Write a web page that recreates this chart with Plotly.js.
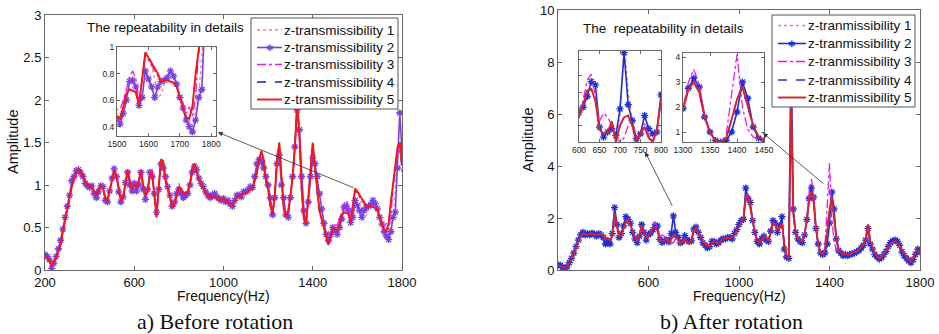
<!DOCTYPE html>
<html><head><meta charset="utf-8">
<script src="https://cdn.plot.ly/plotly-3.0.1.min.js"></script>
<style>html,body{margin:0;padding:0;background:#fff}#chart{width:939px;height:334px}</style>
</head><body><div id="chart"></div>
<script>
// ---- frequency grid (Hz) ----
const freqStart = 200, freqEnd = 1800, freqStep = 10;
const freq = [];
for (let f = freqStart; f <= freqEnd; f += freqStep) freq.push(f);

// ---- a) Before rotation ----
const leftNames = ['z-transmissibility 1','z-transmissibility 2','z-transmissibility 3','z-transmissibility 4','z-transmissibility 5'];
const leftT1 = [0.18,0.15,0.10,0.05,0.10,0.15,0.22,0.30,0.45,0.60, 0.72,0.85,0.98,1.08,1.13,1.18,1.17,1.12,1.05,1.00, 0.99,0.98,0.93,0.88,0.96,0.98,0.96,0.85,0.82,0.95, 1.05,1.17,1.12,0.95,0.82,0.85,1.00,1.17,1.05,0.95, 1.00,0.97,1.05,1.17,1.00,0.88,0.92,1.12,1.15,0.85, 0.62,1.00,1.30,1.28,1.05,0.95,0.85,0.74,0.76,0.88, 0.98,0.95,0.90,0.90,0.92,1.02,1.20,1.25,1.15,1.05, 1.00,0.95,0.90,0.86,0.88,0.85,0.86,0.84,0.82,0.83, 0.85,0.82,0.80,0.76,0.76,0.80,0.85,0.87,0.88,0.90, 0.90,0.92,0.95,0.95,1.05,1.15,1.30,1.40,1.30,1.05, 0.95,0.75,0.66,0.90,1.30,1.50,1.10,0.72,0.63,0.70, 0.88,1.10,1.45,1.98,1.60,0.95,0.60,0.55,0.85,1.20, 1.50,1.20,0.95,0.70,0.60,0.50,0.38,0.30,0.38,0.48, 0.48,0.46,0.55,0.65,0.68,0.67,0.66,0.56,0.75,0.96, 0.92,0.86,0.76,0.62,0.64,0.72,0.74,0.74,0.73,0.70, 0.62,0.55,0.47,0.44,0.40,0.52,0.62,0.95,1.40,1.50, 1.25];
const leftT2 = [0.18,0.16,0.12,0.02,0.08,0.16,0.25,0.35,0.48,0.62, 0.75,0.88,1.05,1.10,1.17,1.18,1.14,1.10,1.02,0.99, 0.97,0.99,0.90,0.85,0.92,0.99,0.98,0.82,0.80,0.93, 1.08,1.19,1.10,0.92,0.80,0.86,1.03,1.15,1.00,0.93, 1.02,0.93,1.00,1.15,0.95,0.83,0.95,1.15,1.10,0.90, 0.68,0.95,1.25,1.20,1.10,0.98,0.88,0.75,0.80,0.90, 0.95,0.90,0.85,0.88,0.90,1.00,1.15,1.22,1.18,1.08, 1.02,0.98,0.92,0.88,0.85,0.88,0.90,0.86,0.84,0.82, 0.84,0.80,0.82,0.78,0.75,0.82,0.88,0.88,0.86,0.92, 0.92,0.94,0.98,0.97,1.10,1.25,1.30,1.27,1.20,1.10, 1.00,0.85,0.65,0.85,1.25,1.35,1.00,0.85,0.65,0.62, 0.85,1.10,1.45,1.88,1.65,1.10,0.70,0.55,0.80,1.10, 1.32,1.25,1.10,0.90,0.72,0.55,0.42,0.35,0.42,0.50, 0.46,0.42,0.50,0.60,0.74,0.75,0.70,0.56,0.62,0.82, 0.76,0.70,0.62,0.70,0.74,0.75,0.77,0.82,0.78,0.72, 0.62,0.54,0.45,0.40,0.36,0.45,0.62,0.68,1.20,1.85, 1.40];
const leftT3 = [0.18,0.14,0.10,0.05,0.10,0.16,0.23,0.31,0.46,0.60, 0.73,0.86,0.99,1.08,1.14,1.19,1.16,1.12,1.05,1.00, 0.99,0.97,0.92,0.88,0.95,0.98,0.96,0.86,0.82,0.95, 1.06,1.19,1.12,0.95,0.83,0.85,1.01,1.18,1.06,0.95, 1.02,0.97,1.05,1.18,1.00,0.88,0.93,1.12,1.20,0.86, 0.63,1.00,1.32,1.28,1.06,0.95,0.85,0.75,0.78,0.90, 1.02,0.96,0.92,0.90,0.93,1.03,1.20,1.25,1.15,1.05, 1.00,0.95,0.90,0.87,0.88,0.86,0.86,0.84,0.82,0.83, 0.85,0.82,0.80,0.77,0.76,0.80,0.85,0.87,0.88,0.90, 0.90,0.92,0.95,0.95,1.05,1.15,1.30,1.38,1.28,1.05, 0.95,0.75,0.66,0.90,1.30,1.48,1.10,0.72,0.63,0.70, 0.88,1.10,1.45,1.95,1.60,0.95,0.60,0.55,0.85,1.20, 1.48,1.20,0.95,0.70,0.60,0.50,0.38,0.29,0.38,0.48, 0.53,0.53,0.60,0.68,0.78,0.82,0.76,0.60,0.75,0.94, 0.90,0.86,0.82,0.78,0.74,0.75,0.75,0.74,0.73,0.70, 0.64,0.58,0.50,0.55,0.48,0.62,0.98,1.18,1.40,1.45, 1.15];
const leftT4 = [0.18,0.15,0.10,0.05,0.10,0.15,0.22,0.30,0.45,0.60, 0.72,0.85,0.98,1.08,1.13,1.18,1.17,1.12,1.05,1.00, 0.99,0.98,0.93,0.88,0.96,0.98,0.96,0.85,0.82,0.95, 1.05,1.17,1.12,0.95,0.82,0.85,1.00,1.17,1.05,0.95, 1.00,0.97,1.05,1.17,1.00,0.88,0.92,1.12,1.15,0.85, 0.62,1.00,1.30,1.28,1.05,0.95,0.85,0.74,0.76,0.88, 0.98,0.95,0.90,0.90,0.92,1.02,1.20,1.25,1.15,1.05, 1.00,0.95,0.90,0.86,0.88,0.85,0.86,0.84,0.82,0.83, 0.85,0.82,0.80,0.76,0.76,0.80,0.85,0.87,0.88,0.90, 0.90,0.92,0.95,0.95,1.05,1.15,1.30,1.40,1.30,1.05, 0.95,0.75,0.66,0.90,1.30,1.50,1.10,0.72,0.63,0.70, 0.88,1.10,1.45,1.95,1.60,0.95,0.60,0.55,0.85,1.20, 1.50,1.20,0.95,0.70,0.60,0.50,0.38,0.30,0.38,0.48, 0.48,0.46,0.55,0.65,0.68,0.67,0.66,0.56,0.75,0.94, 0.92,0.88,0.84,0.80,0.74,0.75,0.75,0.74,0.73,0.70, 0.62,0.55,0.47,0.46,0.55,0.78,0.98,1.20,1.45,1.50, 1.25];
const leftT5 = [0.18,0.15,0.10,0.05,0.10,0.15,0.22,0.30,0.45,0.60, 0.72,0.85,0.98,1.08,1.13,1.18,1.17,1.12,1.05,1.00, 0.99,0.98,0.93,0.88,0.96,0.98,0.96,0.85,0.82,0.95, 1.05,1.17,1.12,0.95,0.82,0.85,1.00,1.17,1.05,0.95, 1.00,0.97,1.05,1.17,1.00,0.88,0.92,1.12,1.15,0.85, 0.62,1.00,1.30,1.28,1.05,0.95,0.85,0.74,0.76,0.88, 0.98,0.95,0.90,0.90,0.92,1.02,1.20,1.25,1.15,1.05, 1.00,0.95,0.90,0.86,0.88,0.85,0.86,0.84,0.82,0.83, 0.85,0.82,0.80,0.76,0.76,0.80,0.85,0.87,0.88,0.90, 0.90,0.92,0.95,0.95,1.05,1.15,1.30,1.40,1.30,1.05, 0.95,0.75,0.66,0.90,1.30,1.50,1.10,0.72,0.63,0.70, 0.88,1.10,1.45,1.98,1.60,0.95,0.60,0.55,0.85,1.20, 1.50,1.20,0.95,0.70,0.60,0.50,0.38,0.30,0.38,0.48, 0.48,0.46,0.55,0.65,0.68,0.67,0.66,0.56,0.75,0.96, 0.92,0.88,0.84,0.80,0.74,0.75,0.75,0.74,0.73,0.70, 0.62,0.55,0.47,0.46,0.55,0.80,1.02,1.20,1.45,1.50, 1.25];

// ---- b) After rotation ----
const rightNames = ['z-tranmissibility 1','z-tranmissibility 2','z-tranmissibility 3','z-tranmissibility 4','z-tranmissibility 5'];
const rightT1 = [0.20,0.15,0.10,0.08,0.12,0.25,0.40,0.60,0.85,1.10, 1.30,1.42,1.38,1.35,1.38,1.40,1.36,1.35,1.38,1.40, 1.30,1.20,1.22,1.15,1.30,2.25,1.70,1.30,1.35,1.60, 1.85,1.95,1.75,1.50,1.25,1.10,1.30,1.72,1.50,1.20, 1.32,1.45,1.62,1.66,1.50,1.15,1.10,1.12,1.25,1.02, 1.30,2.20,1.60,1.25,1.00,1.12,1.22,1.08,1.00,1.15, 1.50,1.62,1.45,1.30,1.10,1.00,0.92,0.90,1.00,1.12, 1.05,1.00,1.10,1.20,1.22,1.25,1.22,1.25,1.35,1.50, 1.70,1.85,2.00,2.85,2.90,2.40,1.90,1.45,1.15,1.05, 1.15,1.30,1.25,1.10,1.45,1.85,1.75,1.50,1.65,1.85, 1.00,0.55,0.45,7.80,2.20,1.40,1.20,1.15,1.10,1.40, 1.90,2.70,3.00,2.60,1.60,1.00,0.65,0.60,0.75,1.50, 2.30,2.80,2.00,1.25,0.80,0.70,0.60,0.62,0.60,0.62, 0.65,0.68,0.72,0.78,0.90,1.00,1.20,1.75,1.10,0.85, 0.65,0.55,0.45,0.50,0.62,0.75,0.90,1.00,1.08,1.10, 1.05,0.90,0.75,0.60,0.50,0.40,0.32,0.45,0.70,0.75, 0.65];
const rightT2 = [0.20,0.18,0.10,0.05,0.12,0.28,0.45,0.65,0.90,1.15, 1.35,1.45,1.35,1.40,1.35,1.42,1.38,1.30,1.40,1.35, 1.25,1.00,1.10,1.00,1.40,2.40,1.75,1.25,1.40,1.70, 2.05,1.95,1.80,1.45,1.20,1.05,1.30,1.75,1.45,1.15, 1.36,1.42,1.55,1.73,1.69,1.18,1.06,1.12,1.16,1.08, 1.40,2.08,1.45,1.26,1.04,1.10,1.32,1.16,1.10,1.12, 1.57,1.65,1.45,1.25,1.05,0.95,0.85,0.90,1.10,1.10, 1.00,1.05,1.15,1.20,1.20,1.25,1.25,1.20,1.40,1.55, 1.75,1.90,1.95,3.15,2.75,2.60,1.90,1.45,1.10,1.00, 1.20,1.30,1.15,1.10,1.50,1.90,1.80,1.45,1.70,2.05, 0.80,0.50,0.45,8.30,2.35,1.45,1.20,1.10,1.05,1.35, 1.94,2.75,3.15,2.80,1.60,1.00,0.66,0.60,0.66,1.00, 1.80,3.00,2.35,1.20,0.75,0.65,0.55,0.60,0.55,0.60, 0.62,0.65,0.70,0.75,0.85,0.95,1.15,1.60,1.00,0.80, 0.60,0.50,0.42,0.48,0.60,0.72,0.90,1.05,1.12,1.15, 1.10,0.95,0.70,0.55,0.45,0.35,0.28,0.40,0.60,0.80, 0.70];
const rightT3 = [0.20,0.14,0.10,0.08,0.13,0.26,0.42,0.62,0.86,1.12, 1.32,1.40,1.36,1.36,1.37,1.42,1.35,1.34,1.40,1.38, 1.28,1.18,1.22,1.16,1.32,2.15,1.68,1.32,1.38,1.62, 1.82,1.98,1.72,1.48,1.22,1.12,1.32,1.70,1.48,1.22, 1.32,1.50,1.75,1.82,1.55,1.25,1.35,1.30,1.20,1.05, 1.00,1.05,1.20,1.25,1.05,1.10,1.22,1.08,1.02,1.15, 1.52,1.60,1.42,1.30,1.10,1.00,0.92,0.92,1.02,1.12, 1.05,1.02,1.12,1.20,1.22,1.24,1.22,1.26,1.35,1.52, 1.70,1.82,2.00,2.75,2.85,2.45,1.90,1.45,1.15,1.05, 1.15,1.28,1.25,1.12,1.45,1.80,1.72,1.50,1.62,1.80, 1.00,0.55,0.45,7.00,2.10,1.40,1.20,1.15,1.10,1.40, 1.95,3.00,3.50,2.90,1.70,1.00,0.65,0.60,0.90,2.50, 4.10,2.00,1.10,0.80,0.70,0.65,0.58,0.60,0.58,0.60, 0.65,0.68,0.72,0.78,0.90,1.00,1.22,1.70,1.08,0.85, 0.65,0.55,0.45,0.50,0.62,0.75,0.90,1.00,1.08,1.10, 1.05,0.90,0.75,0.60,0.50,0.40,0.32,0.45,0.70,0.75, 0.62];
const rightT4 = [0.20,0.15,0.10,0.08,0.12,0.25,0.40,0.60,0.85,1.10, 1.30,1.42,1.38,1.35,1.38,1.40,1.36,1.35,1.38,1.40, 1.30,1.20,1.22,1.15,1.30,2.20,1.70,1.30,1.35,1.60, 1.85,1.95,1.75,1.50,1.25,1.10,1.30,1.72,1.50,1.20, 1.30,1.45,1.62,1.64,1.50,1.15,1.10,1.12,1.25,1.00, 1.20,1.30,1.32,1.20,1.00,1.10,1.18,1.05,1.00,1.15, 1.50,1.62,1.45,1.30,1.10,1.00,0.92,0.90,1.00,1.12, 1.05,1.00,1.10,1.20,1.22,1.25,1.22,1.25,1.35,1.50, 1.70,1.85,2.00,2.80,2.90,2.40,1.90,1.45,1.15,1.05, 1.15,1.30,1.25,1.10,1.45,1.85,1.75,1.50,1.65,1.80, 1.00,0.55,0.45,7.20,2.20,1.40,1.20,1.15,1.10,1.40, 1.90,2.70,3.00,2.60,1.60,1.00,0.65,0.60,0.75,1.50, 2.30,2.90,2.00,1.25,0.80,0.70,0.60,0.62,0.60,0.62, 0.65,0.68,0.72,0.78,0.90,1.00,1.20,1.75,1.10,0.85, 0.65,0.55,0.45,0.50,0.62,0.75,0.90,1.00,1.08,1.10, 1.05,0.90,0.75,0.60,0.50,0.40,0.32,0.45,0.70,0.75, 0.65];
const rightT5 = [0.20,0.15,0.10,0.08,0.12,0.25,0.40,0.60,0.85,1.10, 1.30,1.42,1.38,1.35,1.38,1.40,1.36,1.35,1.38,1.40, 1.30,1.20,1.22,1.15,1.30,2.20,1.70,1.30,1.35,1.60, 1.85,1.95,1.75,1.50,1.25,1.10,1.30,1.72,1.50,1.20, 1.30,1.45,1.62,1.64,1.50,1.15,1.10,1.12,1.25,1.00, 1.20,1.30,1.32,1.20,1.00,1.10,1.18,1.05,1.00,1.15, 1.50,1.62,1.45,1.30,1.10,1.00,0.92,0.90,1.00,1.12, 1.05,1.00,1.10,1.20,1.22,1.25,1.22,1.25,1.35,1.50, 1.70,1.85,2.00,2.80,2.90,2.40,1.90,1.45,1.15,1.05, 1.15,1.30,1.25,1.10,1.45,1.85,1.75,1.50,1.65,1.80, 1.00,0.55,0.45,6.50,2.20,1.40,1.20,1.15,1.10,1.40, 1.90,2.70,3.00,2.60,1.60,1.00,0.65,0.60,0.75,1.50, 2.30,2.80,2.00,1.25,0.80,0.70,0.60,0.62,0.60,0.62, 0.65,0.68,0.72,0.78,0.90,1.00,1.20,1.75,1.10,0.85, 0.65,0.55,0.45,0.50,0.62,0.75,0.90,1.00,1.08,1.10, 1.05,0.90,0.75,0.60,0.50,0.40,0.32,0.45,0.70,0.75, 0.65];

// ---- tick labels ----
const leftXTicks = [200, 600, 1000, 1400, 1800];
const leftYTicks = [0, 0.5, 1, 1.5, 2, 2.5, 3];
const leftInsetXTicks = [1500, 1600, 1700, 1800];
const leftInsetYTicks = [0.4, 0.6, 0.8, 1];
const rightXTicks = [600, 1000, 1400, 1800];
const rightYTicks = [0, 2, 4, 6, 8, 10];
const rightInset1XTicks = [600, 650, 700, 750, 800];
const rightInset2XTicks = [1300, 1350, 1400, 1450];
const rightInset2YTicks = [1, 2, 3, 4];

// ---- styles ----
const FONT = 'Liberation Sans, Arial, sans-serif';
const W = 939, H = 334;
const px = v => v / W, py = v => 1 - v / H;

const leftStyles = [
  {mode:'lines', line:{color:'#f07f8f', width:1.3, dash:'dot'}},
  {mode:'lines+markers', line:{color:'#7b3fe0', width:1.6}, marker:{symbol:'asterisk-open', size:6, color:'#7b3fe0', line:{color:'#7b3fe0', width:1.3}}},
  {mode:'lines', line:{color:'#e01fe0', width:1.3, dash:'dashdot'}},
  {mode:'lines', line:{color:'#1a1ab8', width:1.3, dash:'dash'}},
  {mode:'lines', line:{color:'#ff1414', width:1.9}}
];
const rightStyles = [
  {mode:'lines', line:{color:'#f07f8f', width:1.3, dash:'dot'}},
  {mode:'lines+markers', line:{color:'#1f2fd8', width:1.6}, marker:{symbol:'asterisk-open', size:6, color:'#1f2fd8', line:{color:'#1f2fd8', width:1.3}}},
  {mode:'lines', line:{color:'#e01fe0', width:1.3, dash:'dashdot'}},
  {mode:'lines', line:{color:'#2a2ad0', width:1.3, dash:'dash'}},
  {mode:'lines', line:{color:'#d8232f', width:1.9}}
];

const leftData = [leftT1, leftT2, leftT3, leftT4, leftT5];
const rightData = [rightT1, rightT2, rightT3, rightT4, rightT5];
const traces = [];
function addSet(data, names, styles, subplots) {
  subplots.forEach(sp => {
    data.forEach((ys, i) => {
      traces.push(Object.assign({
        type:'scatter', x: freq, y: ys, name: names[i],
        xaxis: sp[0], yaxis: sp[1], showlegend:false, hoverinfo:'skip'
      }, JSON.parse(JSON.stringify(styles[i]))));
    });
  });
}
addSet(leftData, leftNames, leftStyles, [['x','y'],['x2','y2']]);
addSet(rightData, rightNames, rightStyles, [['x3','y3'],['x4','y4'],['x5','y5']]);

function ax(extra) {
  return Object.assign({
    showline:true, linecolor:'#666', linewidth:1, mirror:'allticks',
    ticks:'inside', ticklen:4, tickcolor:'#666', tickwidth:1,
    showgrid:false, zeroline:false, fixedrange:true,
    tickfont:{family:FONT, size:13, color:'#111'}
  }, extra);
}
const smallFont = {family:FONT, size:8.5, color:'#222'};

// ---- legends (box + samples + names) ----
const shapes = [];
const annotations = [];
function txt(x, y, text, size, extra) {
  annotations.push(Object.assign({xref:'paper', yref:'paper', x:px(x), y:py(y), text:text, showarrow:false,
    xanchor:'center', yanchor:'middle', font:{family:FONT, size:size, color:'#111'}}, extra || {}));
}
function drawLegend(box, rowsY, lineX, textX, names, styles) {
  shapes.push({type:'rect', xref:'paper', yref:'paper', layer:'above', x0:px(box[0]), x1:px(box[1]), y0:py(box[3]), y1:py(box[2]),
    fillcolor:'#fff', line:{color:'#555', width:1}});
  rowsY.forEach((ry, i) => {
    const st = styles[i];
    shapes.push({type:'line', xref:'paper', yref:'paper', layer:'above', x0:px(lineX[0]), x1:px(lineX[1]), y0:py(ry), y1:py(ry),
      line:{color:st.line.color, width:st.line.width, dash:st.line.dash || 'solid'}});
    if (st.marker) txt((lineX[0] + lineX[1]) / 2, ry + 0.5, '\u2731', 9, {font:{family:'DejaVu Sans', size:9, color:st.marker.color}});
    txt(textX, ry, names[i], 13.5, {xanchor:'left'});
  });
}
drawLegend([251, 398, 18, 109], [30, 47.5, 64.5, 82, 99.5], [257, 282], 282, leftNames, leftStyles);
drawLegend([772, 915, 15, 107], [25.5, 43.5, 61.5, 80, 97.5], [778, 806], 806, rightNames, rightStyles);

// ---- texts ----
txt(165, 27, 'The repeatability in details', 13.5);
txt(663, 29, 'The\u00a0\u00a0repeatability in details', 13.5);
txt(223, 296, 'Frequency(Hz)', 14);
txt(739, 296, 'Frequency(Hz)', 14);
txt(13, 142, 'Amplitude', 14.5, {textangle:-90});
txt(528, 140, 'Amplitude', 14.5, {textangle:-90});
txt(215, 321, 'a) Before rotation', 22, {font:{family:'Liberation Serif, Times New Roman, serif', size:22, color:'#111'}});
txt(731, 321, 'b) After rotation', 22, {font:{family:'Liberation Serif, Times New Roman, serif', size:22, color:'#111'}});

// ---- arrows (tail at the detail region, head at the inset) ----
const arrowStyle = {text:'', showarrow:true, arrowhead:2, arrowsize:1.2, arrowwidth:0.8, arrowcolor:'#333', standoff:0, startstandoff:0};
annotations.push(Object.assign({xref:'x', yref:'y', axref:'x', ayref:'y', x:975, y:1.62, ax:1590, ay:0.96}, arrowStyle));
annotations.push(Object.assign({xref:'x3', yref:'y3', axref:'x3', ayref:'y3', x:585, y:4.54, ax:708, ay:2.42}, arrowStyle));
annotations.push(Object.assign({xref:'x3', yref:'y3', axref:'x3', ayref:'y3', x:1106, y:5.27, ax:1380, ay:3.27}, arrowStyle));

const layout = {
  width:W, height:H, margin:{l:0, r:0, t:0, b:0},
  paper_bgcolor:'#fff', plot_bgcolor:'#fff',
  showlegend:false,
  xaxis: ax({domain:[px(45), px(402)], range:[200,1800], anchor:'y', tickvals:leftXTicks}),
  yaxis: ax({domain:[py(270), py(15)], range:[0,3], anchor:'x', tickvals:leftYTicks}),
  xaxis2: ax({domain:[px(117), px(216)], range:[1500,1815], anchor:'y2', tickvals:leftInsetXTicks, ticklen:3, tickfont:smallFont}),
  yaxis2: ax({domain:[py(136), py(47)], range:[0.33,1.0], anchor:'x2', tickvals:leftInsetYTicks, ticklen:3, tickfont:smallFont}),
  xaxis3: ax({domain:[px(558), px(920)], range:[200,1800], anchor:'y3', tickvals:rightXTicks}),
  yaxis3: ax({domain:[py(270), py(10)], range:[0,10], anchor:'x3', tickvals:rightYTicks}),
  xaxis4: ax({domain:[px(579), px(661)], range:[600,800], anchor:'y4', tickvals:rightInset1XTicks, ticklen:3, tickfont:smallFont}),
  yaxis4: ax({domain:[py(142), py(51)], range:[1.0,2.1], anchor:'x4', dtick:0.2, ticklen:3, showticklabels:false}),
  xaxis5: ax({domain:[px(683), px(764)], range:[1300,1450], anchor:'y5', tickvals:rightInset2XTicks, ticklen:3, tickfont:smallFont}),
  yaxis5: ax({domain:[py(142), py(53)], range:[0.6,4.16], anchor:'x5', tickvals:rightInset2YTicks, ticklen:3, tickfont:smallFont}),
  shapes: shapes,
  annotations: annotations
};

Plotly.newPlot('chart', traces, layout, {displayModeBar:false, staticPlot:true});
</script>
</body></html>
